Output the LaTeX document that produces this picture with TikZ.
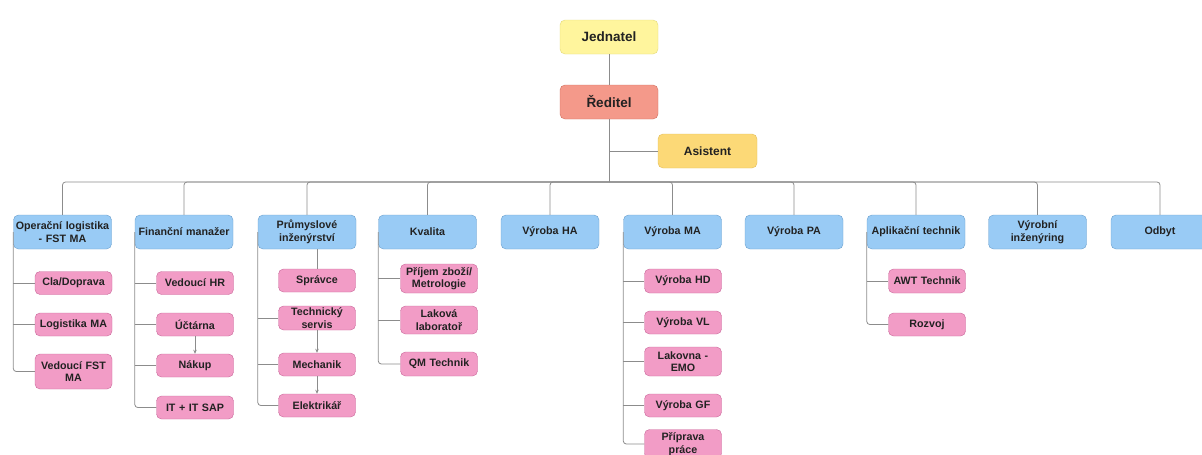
\documentclass[tikz,border=0pt]{standalone}
\usepackage{fontspec}
\setmainfont{Liberation Sans}
\usetikzlibrary{arrows.meta}
\definecolor{jedfill}{HTML}{FFF59D}
\definecolor{jeddraw}{HTML}{E3D97A}
\definecolor{redfill}{HTML}{F4998A}
\definecolor{reddraw}{HTML}{D0705F}
\definecolor{astfill}{HTML}{FCD977}
\definecolor{astdraw}{HTML}{E2BD5A}
\definecolor{deptfill}{HTML}{99CBF5}
\definecolor{deptdraw}{HTML}{6A9FCC}
\definecolor{unitfill}{HTML}{F29CC6}
\definecolor{unitdraw}{HTML}{C9679A}
\definecolor{linegray}{HTML}{8C8C8C}
\definecolor{txt}{HTML}{222222}
\tikzset{
  box/.style={draw, rounded corners=5pt, align=center, inner sep=0pt, text=txt, font=\bfseries},
  boss/.style={box, minimum width=98pt, minimum height=34pt, font=\bfseries\fontsize{13.5}{15}\selectfont},
  dept/.style={box, fill=deptfill, draw=deptdraw, minimum width=98pt, minimum height=34pt, text width=96pt, font=\bfseries\fontsize{10.7}{12.5}\selectfont},
  unit/.style={box, fill=unitfill, draw=unitdraw, minimum width=77pt, minimum height=23pt, text width=75pt, font=\bfseries\fontsize{10.7}{12.5}\selectfont},
  line/.style={draw=linegray, line width=0.8pt, rounded corners=3pt},
  arr/.style={draw=linegray, line width=0.8pt, -{Stealth[length=4pt,width=3.5pt]}}
}
\begin{document}
\begin{tikzpicture}[x=1pt,y=-1pt]
\useasboundingbox (0,0) rectangle (1202,455);
\clip (0,0) rectangle (1202,455);

\node[boss, fill=jedfill, draw=jeddraw] (jed) at (609,37) {Jednatel};
\node[boss, fill=redfill, draw=reddraw] (red) at (609,102) {Ředitel};
\node[boss, fill=astfill, draw=astdraw, minimum width=99pt, font=\bfseries\fontsize{12}{14}\selectfont] (ast) at (707.5,151) {Asistent};
\coordinate (bus) at (609,182);

\node[dept] (opl) at (62.5,232) {Operační logistika\\- FST MA};
\node[dept] (fin) at (184,232) {Finanční manažer};
\node[dept] (prum) at (307,232) {Průmyslové\\inženýrství};
\node[dept] (kval) at (427.5,232) {Kvalita};
\node[dept] (vha) at (550,232) {Výroba HA};
\node[dept] (vma) at (672.5,232) {Výroba MA};
\node[dept] (vpa) at (794,232) {Výroba PA};
\node[dept] (apl) at (916,232) {Aplikační technik};
\node[dept] (ving) at (1037.5,232) {Výrobní\\inženýring};
\node[dept] (odbyt) at (1160,232) {Odbyt};

\node[unit] (cla) at (73.5,283) {Cla/Doprava};
\node[unit] (logma) at (73.5,324.5) {Logistika MA};
\node[unit, minimum height=35pt] (vfst) at (73.5,371.5) {Vedoucí FST\\MA};

\node[unit] (vhr) at (195,283) {Vedoucí HR};
\node[unit] (uct) at (195,324.5) {Účtárna};
\node[unit] (nakup) at (195,365.5) {Nákup};
\node[unit] (itsap) at (195,407.5) {IT + IT SAP};

\node[unit] (spravce) at (317,280.5) {Správce};
\node[unit, minimum height=24pt] (tserv) at (317,318) {Technický\\servis};
\node[unit] (mech) at (317,364.5) {Mechanik};
\node[unit] (elek) at (317,405.5) {Elektrikář};

\node[unit, minimum height=29pt] (prijem) at (439,278.5) {Příjem zboží/\\Metrologie};
\node[unit, minimum height=28pt] (lakl) at (439,320) {Laková\\laboratoř};
\node[unit, minimum height=24pt] (qm) at (439,364) {QM Technik};

\node[unit, minimum height=24pt] (vhd) at (683,281) {Výroba HD};
\node[unit] (vvl) at (683,322.5) {Výroba VL};
\node[unit, minimum height=29pt] (lemo) at (683,361.5) {Lakovna -\\EMO};
\node[unit] (vgf) at (683,405.5) {Výroba GF};
\node[unit, minimum height=29pt] (prip) at (683,444) {Příprava\\práce};

\node[unit, minimum height=24pt] (awt) at (927,281) {AWT Technik};
\node[unit] (rozvoj) at (927,324.5) {Rozvoj};

\draw[line] (jed) -- (red);
\draw[line] (red) -- (bus);
\draw[line] (red |- ast) -- (ast.west);
\foreach \d in {opl,fin,prum,kval,vha,vma,vpa,apl,ving,odbyt}
  \draw[line] (bus) -| (\d.north);

\draw[line] (opl.west) |- (vfst.west);
\foreach \c in {cla,logma}
  \draw[line] (opl.west |- \c.west) -- (\c.west);
\draw[line] (fin.west) |- (itsap.west);
\foreach \c in {vhr,uct,nakup}
  \draw[line] (fin.west |- \c.west) -- (\c.west);
\draw[line] (prum.west) |- (elek.west);
\foreach \c in {tserv,mech}
  \draw[line] (prum.west |- \c.west) -- (\c.west);
\draw[line] (prum.south -| spravce) -- (spravce.north);
\draw[line] (kval.west) |- (qm.west);
\foreach \c in {prijem,lakl}
  \draw[line] (kval.west |- \c.west) -- (\c.west);
\draw[line] (vma.west) |- (prip.west);
\foreach \c in {vhd,vvl,lemo,vgf}
  \draw[line] (vma.west |- \c.west) -- (\c.west);
\draw[line] (apl.west) |- (rozvoj.west);
\draw[line] (apl.west |- awt.west) -- (awt.west);

\draw[arr] (uct) -- (nakup);
\draw[arr] (tserv) -- (mech);
\draw[arr] (mech) -- (elek);
\end{tikzpicture}
\end{document}
